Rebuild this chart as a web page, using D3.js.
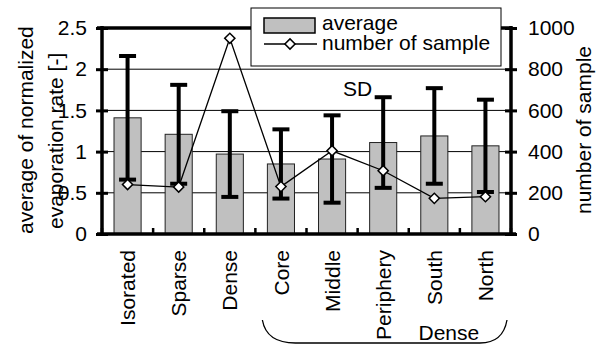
<!DOCTYPE html>
<html>
<head>
<meta charset="utf-8">
<script src="https://cdn.jsdelivr.net/npm/d3@7"></script>
<style>
  body { margin: 0; background: #fff; }
  svg { font-family: "Liberation Sans", Arial, sans-serif; }
</style>
</head>
<body>
<svg id="chart" width="599" height="347"></svg>
<script>
// values
const categories = ["Isorated", "Sparse", "Dense", "Core", "Middle", "Periphery", "South", "North"];
const avgRate = [1.41, 1.21, 0.97, 0.85, 0.91, 1.11, 1.19, 1.07];
const sdRate = [0.75, 0.60, 0.52, 0.42, 0.53, 0.55, 0.58, 0.56];
const sampleCount = [240, 228, 950, 230, 404, 307, 173, 181];
const leftTicks = [0, 0.5, 1, 1.5, 2, 2.5];
const rightTicks = [0, 200, 400, 600, 800, 1000];
const gridTicks = [0.5, 1, 1.5, 2];
const groupedCats = ["Core", "North"]; // brace under the "Dense" sub-groups

const FONT = 21;
const plot = {left: 102, right: 511, top: 28, bottom: 234};

const svg = d3.select("#chart");

const data = categories.map((c, i) => ({cat: c, avg: avgRate[i], sd: sdRate[i], n: sampleCount[i]}));

let x = d3.scaleBand()
    .domain(categories)
    .range([plot.left, plot.right])
    .paddingInner(0.47)
    .paddingOuter(0.235);

let y = d3.scaleLinear().domain([0, 2.5]).range([plot.bottom, plot.top]);
let yN = d3.scaleLinear().domain([0, 1000]).range([plot.bottom, plot.top]);

const slotStart = c => x(c) - (x.step() - x.bandwidth()) / 2;
const mid = c => x(c) + x.bandwidth() / 2;

// gridlines
svg.append("g").selectAll("line")
    .data(gridTicks)
    .join("line")
    .attr("x1", plot.left).attr("x2", plot.right)
    .attr("y1", d => y(d)).attr("y2", d => y(d))
    .style("stroke", "#000").style("stroke-width", 1);

// top border
svg.append("line")
    .attr("x1", plot.left - 5).attr("x2", plot.right)
    .attr("y1", y(2.5)).attr("y2", y(2.5))
    .style("stroke", "#000").style("stroke-width", 3.5);

// bars
svg.append("g").selectAll("rect")
    .data(data)
    .join("rect")
    .attr("x", d => x(d.cat))
    .attr("y", d => y(d.avg))
    .attr("width", x.bandwidth())
    .attr("height", d => y(0) - y(d.avg))
    .style("fill", "#c0c0c0")
    .style("stroke", "#222")
    .style("stroke-width", 1);

// error bars (SD)
let err = svg.append("g").style("stroke", "#000").style("stroke-width", 4);
err.selectAll(".stem")
    .data(data)
    .join("line")
    .attr("class", "stem")
    .attr("x1", d => mid(d.cat)).attr("x2", d => mid(d.cat))
    .attr("y1", d => y(d.avg + d.sd)).attr("y2", d => y(d.avg - d.sd));
err.selectAll(".capHi")
    .data(data)
    .join("line")
    .attr("class", "capHi")
    .attr("x1", d => mid(d.cat) - 8.5).attr("x2", d => mid(d.cat) + 8.5)
    .attr("y1", d => y(d.avg + d.sd)).attr("y2", d => y(d.avg + d.sd));
err.selectAll(".capLo")
    .data(data)
    .join("line")
    .attr("class", "capLo")
    .attr("x1", d => mid(d.cat) - 8.5).attr("x2", d => mid(d.cat) + 8.5)
    .attr("y1", d => y(d.avg - d.sd)).attr("y2", d => y(d.avg - d.sd));

// number of sample line
svg.append("path")
    .datum(data)
    .attr("d", d3.line().x(d => mid(d.cat)).y(d => yN(d.n)))
    .style("fill", "none")
    .style("stroke", "#000")
    .style("stroke-width", 1.3);

svg.append("g").selectAll("path")
    .data(data)
    .join("path")
    .attr("transform", d => `translate(${mid(d.cat)},${yN(d.n)}) rotate(45)`)
    .attr("d", d3.symbol().type(d3.symbolSquare).size(52))
    .style("fill", "#fff")
    .style("stroke", "#000")
    .style("stroke-width", 1.5);

// left axis
let axL = svg.append("g")
    .attr("transform", `translate(${plot.left},0)`)
    .call(d3.axisLeft(y).tickValues(leftTicks).tickFormat(d3.format("")).tickSize(5).tickPadding(10));
axL.select(".domain").remove();
axL.selectAll(".tick line").attr("x1", 6).attr("x2", -6).style("stroke-width", 3);
axL.selectAll("text").style("font-size", FONT + "px").style("font-family", "Liberation Sans, Arial").attr("fill", "#000");
axL.append("line").attr("x1", 0).attr("x2", 0).attr("y1", plot.top - 2).attr("y2", plot.bottom + 2)
    .style("stroke", "#000").style("stroke-width", 3.5);

// right axis
let axR = svg.append("g")
    .attr("transform", `translate(${plot.right},0)`)
    .call(d3.axisRight(yN).tickValues(rightTicks).tickFormat(d3.format("d")).tickSize(5).tickPadding(12));
axR.select(".domain").remove();
axR.selectAll(".tick line").attr("x1", -6).attr("x2", 6).style("stroke-width", 3);
axR.selectAll("text").style("font-size", FONT + "px").style("font-family", "Liberation Sans, Arial").attr("fill", "#000");
axR.append("line").attr("x1", 0).attr("x2", 0).attr("y1", plot.top - 2).attr("y2", plot.bottom + 2)
    .style("stroke", "#000").style("stroke-width", 3.5);

// bottom axis with rotated category labels
let axB = svg.append("g")
    .attr("transform", `translate(0,${plot.bottom})`)
    .call(d3.axisBottom(x).tickSize(0));
axB.select(".domain").remove();
axB.selectAll("text")
    .style("font-size", FONT + "px")
    .style("font-family", "Liberation Sans, Arial")
    .attr("fill", "#000")
    .attr("text-anchor", "end")
    .attr("transform", "rotate(-90)")
    .attr("x", -16)
    .attr("y", 0)
    .attr("dy", "0.36em");
axB.append("line").attr("x1", plot.left - 5).attr("x2", plot.right + 5).attr("y1", 0).attr("y2", 0)
    .style("stroke", "#000").style("stroke-width", 3.5);
axB.selectAll(".bound")
    .data(d3.range(categories.length + 1))
    .join("line")
    .attr("class", "bound")
    .attr("x1", i => plot.left + i * x.step()).attr("x2", i => plot.left + i * x.step())
    .attr("y1", 0).attr("y2", -6)
    .style("stroke", "#000").style("stroke-width", 2.5);

// axis titles
const yTitle = svg.append("g").style("font-size", FONT + "px");
yTitle.append("text")
    .attr("transform", `translate(33,234) rotate(-90)`)
    .attr("text-anchor", "start")
    .text("average of normalized");
yTitle.append("text")
    .attr("transform", `translate(63,229) rotate(-90)`)
    .attr("text-anchor", "start")
    .text("evaporation rate [-]");
svg.append("text")
    .attr("transform", `translate(584,130) rotate(-90)`)
    .attr("text-anchor", "middle")
    .attr("dy", "0.35em")
    .style("font-size", FONT + "px")
    .text("number of sample");

// SD label
svg.append("text")
    .attr("x", slotStart("Periphery"))
    .attr("y", y(1.67))
    .attr("text-anchor", "middle")
    .style("font-size", FONT + "px")
    .text("SD");

// brace under Core..North with "Dense"
const bL = slotStart(groupedCats[0]) + 7;
const bR = slotStart(groupedCats[1]) + x.step() - 4;
const bTop = 320, bBot = 343;
const bp = d3.path();
bp.moveTo(bL, bTop);
bp.quadraticCurveTo(bL + 4, bBot, bL + 33, bBot);
bp.lineTo(bR - 27, bBot);
bp.quadraticCurveTo(bR - 4, bBot, bR, bTop);
svg.append("path").attr("d", bp.toString())
    .style("fill", "none").style("stroke", "#000").style("stroke-width", 1.3);
svg.append("text")
    .attr("x", slotStart("North") - 11)
    .attr("y", 340)
    .attr("text-anchor", "middle")
    .style("font-size", FONT + "px")
    .text("Dense");

// legend
const lg = svg.append("g").attr("transform", "translate(251,8)");
lg.append("rect").attr("width", 250).attr("height", 58)
    .style("fill", "#fff").style("stroke", "#000").style("stroke-width", 1);
lg.append("rect").attr("x", 13).attr("y", 10).attr("width", 51).attr("height", 15)
    .style("fill", "#c0c0c0").style("stroke", "#000").style("stroke-width", 1.5);
lg.append("line").attr("x1", 13).attr("x2", 66).attr("y1", 36).attr("y2", 36)
    .style("stroke", "#000").style("stroke-width", 1.3);
lg.append("path").attr("transform", "translate(39,36) rotate(45)")
    .attr("d", d3.symbol().type(d3.symbolSquare).size(52))
    .style("fill", "#fff").style("stroke", "#000").style("stroke-width", 1.5);
lg.append("text").attr("x", 71).attr("y", 22).style("font-size", FONT + "px").text("average");
lg.append("text").attr("x", 71).attr("y", 42).style("font-size", FONT + "px").text("number of sample");
</script>
</body>
</html>
